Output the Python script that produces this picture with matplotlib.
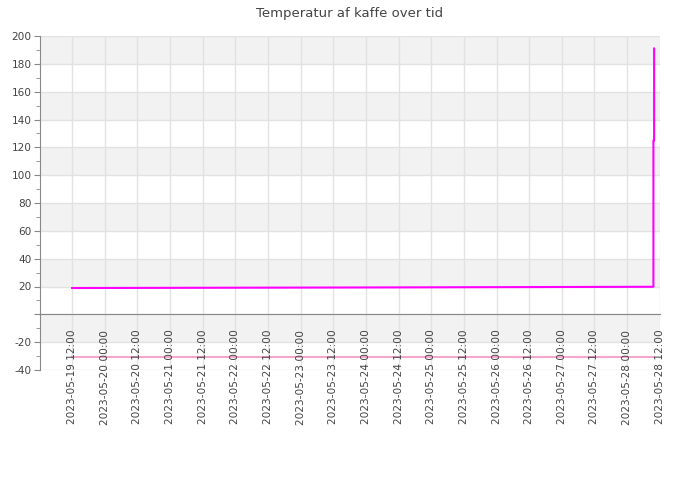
import matplotlib
matplotlib.use('Agg')
import matplotlib.pyplot as plt
import matplotlib.dates as mdates
import pandas as pd

# data
kaffe_tid = ['2023-05-19 12:00', '2023-05-24 00:00', '2023-05-28 09:40',
             '2023-05-28 09:40', '2023-05-28 09:55', '2023-05-28 09:55']
kaffe_temp = [18.9, 19.3, 19.8, 125.0, 125.0, 191.0]
ref_tid = ['2023-05-19 12:00', '2023-05-28 10:00']
ref_temp = [-30.5, -30.5]

tick_tider = pd.date_range('2023-05-19 12:00', '2023-05-28 12:00', freq='12h')
y_ticks = list(range(-40, 201, 20))

txt = '#444444'
fs = 7.6
fig = plt.figure(figsize=(7, 5), dpi=100)
ax = fig.add_axes([40/700, 130/500, 620/700, 334/500])

# alternating bands
for lo in range(-40, 200, 20):
    if (lo // 20) % 2 == 1:
        ax.axhspan(lo, lo + 20, color='#f2f2f2', zorder=0, lw=0)

# grid under the data, labels on top
for t in tick_tider:
    ax.axvline(t, color='#e2e2e2', lw=1, zorder=1)
for v in y_ticks:
    ax.axhline(v, color='#e2e2e2', lw=1, zorder=1)

ax.plot(pd.to_datetime(ref_tid), ref_temp, color='#f4a6cb', lw=1.5, zorder=2)
ax.plot(pd.to_datetime(kaffe_tid), kaffe_temp, color='#ff00ff', lw=1.5, zorder=2.1)

ax.set_ylim(-40, 200)
ax.set_xlim(pd.Timestamp('2023-05-19 00:12'), pd.Timestamp('2023-05-28 12:05'))
ax.set_yticks(y_ticks)
ax.set_yticks(range(-40, 201, 10), minor=True)
ax.set_xticks(tick_tider)
ax.xaxis.set_major_formatter(mdates.DateFormatter('%Y-%m-%d %H:%M'))
ax.set_yticklabels(['' if v == 0 else str(v) for v in y_ticks])
ax.set_axisbelow(False)

for s in ['top', 'right']:
    ax.spines[s].set_visible(False)
ax.spines['bottom'].set_position(('data', 0))
ax.spines['bottom'].set_color('#888888')
ax.spines['left'].set_color('#888888')

ax.tick_params(axis='x', length=0, pad=11, labelsize=fs, labelcolor=txt, rotation=90)
ax.tick_params(axis='y', which='major', length=4, color='#888888', labelsize=fs, labelcolor=txt, pad=2)
ax.tick_params(axis='y', which='minor', length=3, color='#888888')
for lab in ax.get_xticklabels():
    lab.set_verticalalignment('top')

fig.suptitle('Temperatur af kaffe over tid', y=0.985, fontsize=9.5, color=txt)
fig.savefig('out.png', dpi=100)
